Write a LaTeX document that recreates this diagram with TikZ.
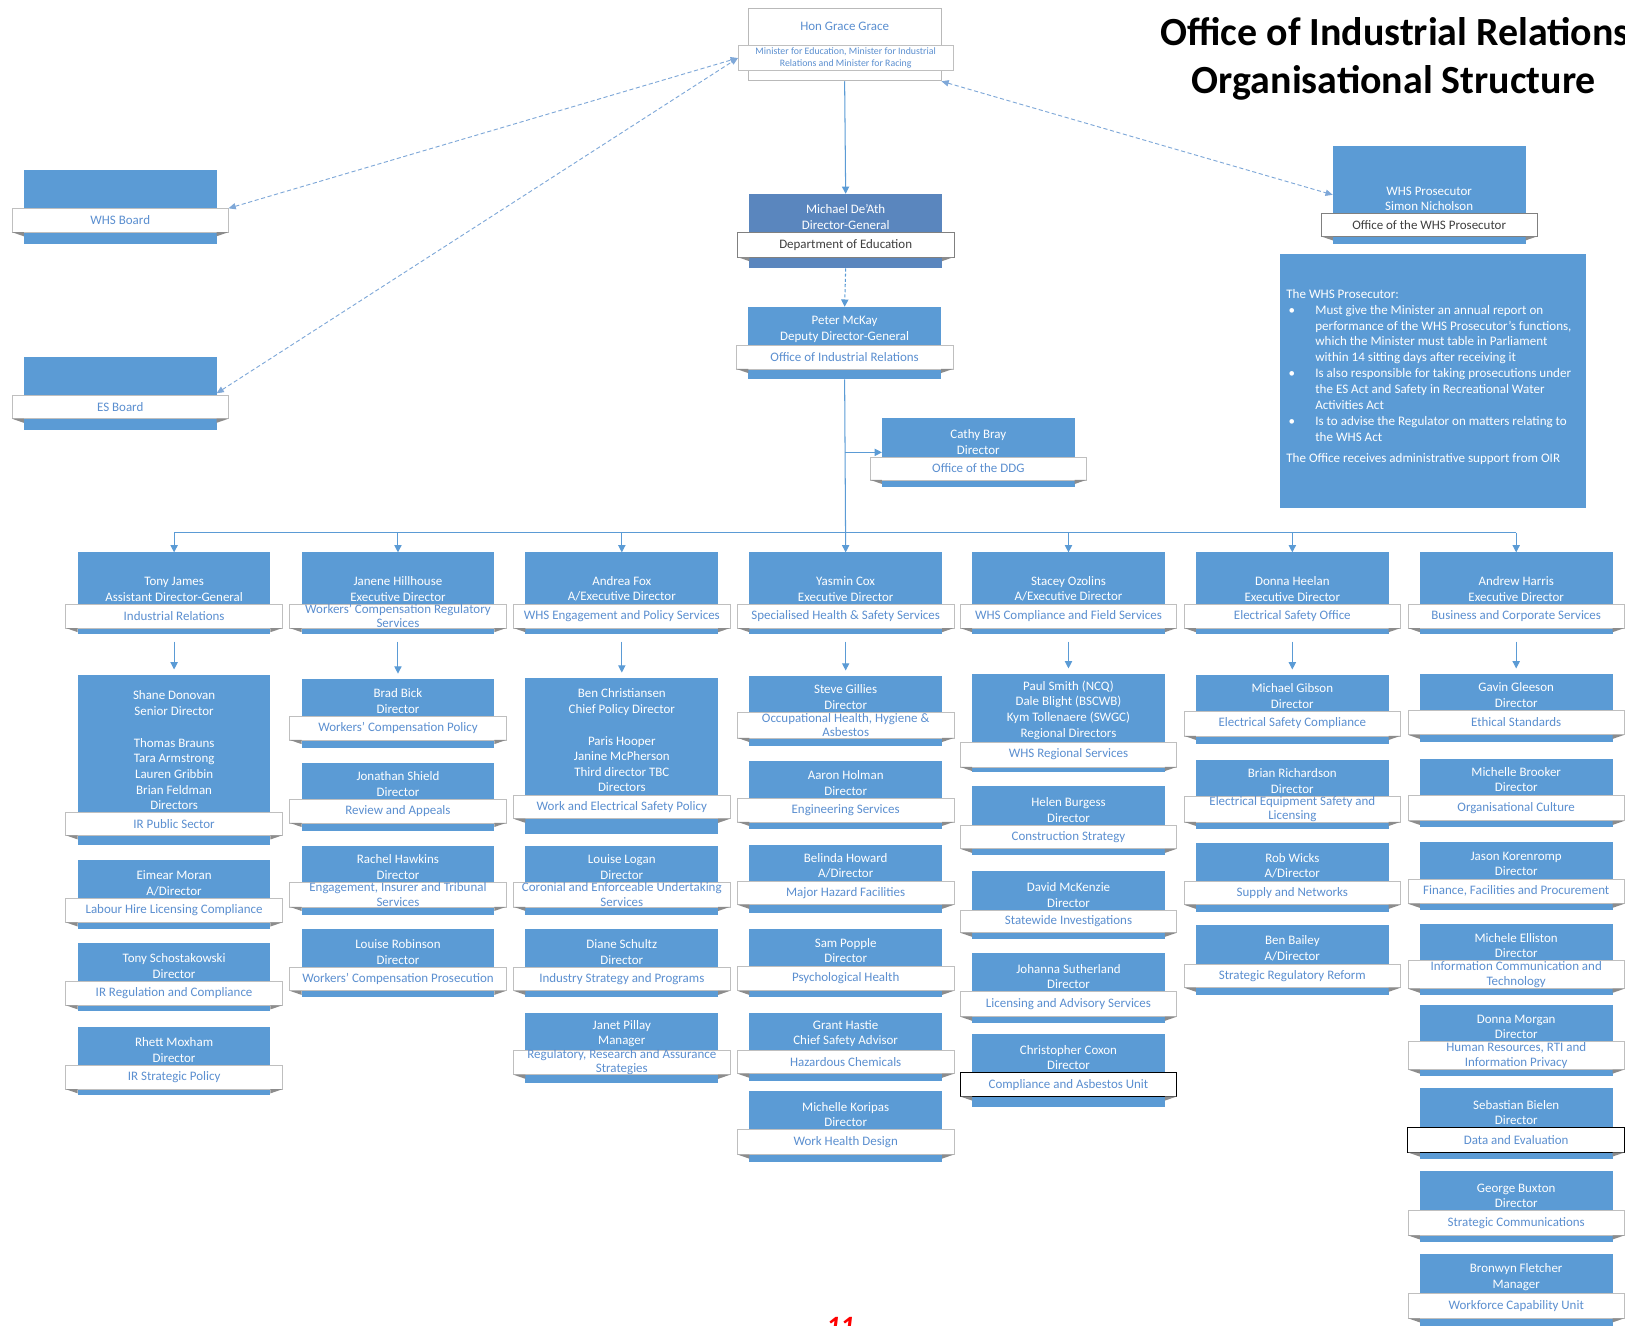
\documentclass[tikz,border=0pt]{standalone}
\usepackage{fontspec}
\setmainfont{Carlito}
\usetikzlibrary{arrows.meta,calc}
\definecolor{boxblue}{HTML}{5B9BD5}
\definecolor{deepblue}{HTML}{5A86BE}
\definecolor{bandtext}{HTML}{5B8FD0}
\definecolor{darktext}{HTML}{3F3F3F}
\definecolor{linecol}{HTML}{5B9BD5}
\definecolor{dashcol}{HTML}{7FA8D8}
\definecolor{bandedge}{HTML}{BFBFBF}
\definecolor{foldcol}{HTML}{8C8C8C}
\definecolor{pagered}{HTML}{FF0000}
\tikzset{
  bluebox/.style={fill=boxblue, draw=none, minimum width=186pt, inner sep=0pt, outer sep=0pt},
  bandbox/.style={fill=white, draw=bandedge, line width=0.6pt, minimum width=209pt, inner sep=0pt, outer sep=0pt},
  nametext/.style={text=white, align=center, font=\fontsize{12.5}{15}\selectfont, inner sep=0pt, anchor=south},
  bandlabel/.style={text=bandtext, align=center, font=\fontsize{12.5}{14}\selectfont, inner sep=0pt},
  fold/.style={fill=foldcol},
  conn/.style={draw=linecol, line width=1pt},
  arr/.style={conn, -{Triangle[length=7pt,width=7pt]}},
  dasharr/.style={draw=dashcol, line width=0.9pt, dash pattern=on 4pt off 2.5pt, >={Triangle[length=7pt,width=6pt]}, <->},
}
\newcommand\orgcard[9]{%
  \pgfmathsetmacro\cardcy{(#3+#4)/2}%
  \pgfmathsetmacro\cardch{#4-#3}%
  \pgfmathsetmacro\cardby{(#5+#6)/2}%
  \pgfmathsetmacro\cardbh{#6-#5}%
  \pgfmathsetmacro\cardty{#5-2.5}%
  \node[bluebox, minimum height=\cardch pt] (#1) at (#2,\cardcy) {};
  \node[nametext] (#1-t) at (#2,\cardty) {#7};
  \node[bandbox, minimum height=\cardbh pt, #9] (#1-b) at (#2,\cardby) {};
  \fill[fold] (#1-b.south west) -- ($(#1-b.south west -| #1.west)+(0,4)$) -- (#1-b.south west -| #1.west) -- cycle;
  \fill[fold] (#1-b.south east) -- ($(#1-b.south east -| #1.east)+(0,4)$) -- (#1-b.south east -| #1.east) -- cycle;
  \node[bandlabel] (#1-l) at (#1-b.center) {#8};
}
\begin{document}
\begin{tikzpicture}[x=1pt,y=-1pt]
\useasboundingbox (0,0) rectangle (1568,1279);
\clip (0,0) rectangle (1568,1279);

% title
\node[font=\bfseries\fontsize{38.5}{44}\selectfont, anchor=base, inner sep=0pt] (title1) at (1346,44) {Office of Industrial Relations};
\node[font=\bfseries\fontsize{38.5}{44}\selectfont, anchor=base, inner sep=0pt] (title2) at (1345,90) {Organisational Structure};

% minister
\node[fill=white, draw=gray!55, line width=0.8pt, minimum width=186pt, minimum height=70pt, inner sep=0pt] (minister) at (815,43) {};
\node[text=bandtext, font=\fontsize{12.5}{14}\selectfont, inner sep=0pt] (minister-t) at (815,25) {Hon Grace Grace};
\node[bandbox, minimum width=208pt, minimum height=24pt] (minister-b) at (816,56) {};
\node[bandlabel, font=\fontsize{9.5}{11.5}\selectfont] (minister-l) at (minister-b.center) {Minister for Education, Minister for Industrial\\Relations and Minister for Racing};

% boards
\orgcard{whsb}{116}{164}{235}{201}{224}{}{WHS Board}{}
\orgcard{esb}{116}{344}{415}{381}{404}{}{ES Board}{}

% executive line
\begin{scope}[bluebox/.append style={fill=deepblue}]
\orgcard{mda}{816}{187}{259}{224}{248}{Michael De’Ath\\Director-General}{\textcolor{darktext}{Department of Education}}{draw=gray}
\end{scope}
\orgcard{pmk}{815}{296}{366}{333}{356}{Peter McKay\\Deputy Director-General}{Office of Industrial Relations}{}
\orgcard{cb}{944}{403}{470}{441}{463}{Cathy Bray\\Director}{Office of the DDG}{}

% WHS prosecutor
\orgcard{wp}{1379}{141}{235}{206}{228}{WHS Prosecutor\\Simon Nicholson}{\textcolor{darktext}{Office of the WHS Prosecutor}}{draw=gray}
\node[fill=boxblue, minimum width=295pt, minimum height=245pt, inner sep=0pt] (wpinfo) at (1382.5,367.5) {};
\node[anchor=north west, inner sep=0pt, text=white, align=left, font=\fontsize{12.6}{15.3}\selectfont] (wpinfo-t) at (1241,279) {%
The WHS Prosecutor:\\
\makebox[28pt][l]{\,•}Must give the Minister an annual report on\\
\hspace*{28pt}performance of the WHS Prosecutor’s functions,\\
\hspace*{28pt}which the Minister must table in Parliament\\
\hspace*{28pt}within 14 sitting days after receiving it\\
\makebox[28pt][l]{\,•}Is also responsible for taking prosecutions under\\
\hspace*{28pt}the ES Act and Safety in Recreational Water\\
\hspace*{28pt}Activities Act\\
\makebox[28pt][l]{\,•}Is to advise the Regulator on matters relating to\\
\hspace*{28pt}the WHS Act\\[5pt]
The Office receives administrative support from OIR};

% column heads
\orgcard{h1}{168}{533}{612}{583}{606}{Tony James\\Assistant Director-General}{Industrial Relations}{}
\orgcard{h2}{384}{533}{612}{583}{606}{Janene Hillhouse\\Executive Director}{Workers’ Compensation Regulatory\\Services}{}
\orgcard{h3}{600}{533}{612}{583}{606}{Andrea Fox\\A/Executive Director}{WHS Engagement and Policy Services}{}
\orgcard{h4}{816}{533}{612}{583}{606}{Yasmin Cox\\Executive Director}{Specialised Health \& Safety Services}{}
\orgcard{h5}{1031}{533}{612}{583}{606}{Stacey Ozolins\\A/Executive Director}{WHS Compliance and Field Services}{}
\orgcard{h6}{1247}{533}{612}{583}{606}{Donna Heelan\\Executive Director}{Electrical Safety Office}{}
\orgcard{h7}{1463}{533}{612}{583}{606}{Andrew Harris\\Executive Director}{Business and Corporate Services}{}

% column 1
\orgcard{c1a}{168}{651}{815}{784}{806}{Shane Donovan\\Senior Director\\[16pt]Thomas Brauns\\Tara Armstrong\\Lauren Gribbin\\Brian Feldman\\Directors}{IR Public Sector}{}
\orgcard{c1b}{168}{830}{896}{867}{890}{Eimear Moran\\A/Director}{Labour Hire Licensing Compliance}{}
\orgcard{c1c}{168}{910}{976}{947}{970}{Tony Schostakowski\\Director}{IR Regulation and Compliance}{}
\orgcard{c1d}{168}{991}{1057}{1028}{1051}{Rhett Moxham\\Director}{IR Strategic Policy}{}

% column 2
\orgcard{c2a}{384}{655}{722}{691}{714}{Brad Bick\\Director}{Workers’ Compensation Policy}{}
\orgcard{c2b}{384}{736}{802}{771}{794}{Jonathan Shield\\Director}{Review and Appeals}{}
\orgcard{c2c}{384}{816}{883}{851}{875}{Rachel Hawkins\\Director}{Engagement, Insurer and Tribunal\\Services}{}
\orgcard{c2d}{384}{896}{962}{933}{956}{Louise Robinson\\Director}{Workers’ Compensation Prosecution}{}

% column 3
\orgcard{c3a}{600}{654}{805}{767}{790}{Ben Christiansen\\Chief Policy Director\\[16pt]Paris Hooper\\Janine McPherson\\Third director TBC\\Directors}{Work and Electrical Safety Policy}{}
\orgcard{c3b}{600}{816}{883}{851}{875}{Louise Logan\\Director}{Coronial and Enforceable Undertaking\\Services}{}
\orgcard{c3c}{600}{896}{962}{933}{956}{Diane Schultz\\Director}{Industry Strategy and Programs}{}
\orgcard{c3d}{600}{977}{1045}{1013}{1037}{Janet Pillay\\Manager}{Regulatory, Research and Assurance\\Strategies}{}

% column 4
\orgcard{c4a}{816}{652}{720}{687}{712}{Steve Gillies\\Director}{Occupational Health, Hygiene \&\\Asbestos}{}
\orgcard{c4b}{816}{734}{800}{770}{793}{Aaron Holman\\Director}{Engineering Services}{}
\orgcard{c4c}{816}{815}{881}{850}{873}{Belinda Howard\\A/Director}{Major Hazard Facilities}{}
\orgcard{c4d}{816}{896}{962}{932}{956}{Sam Popple\\Director}{Psychological Health}{}
\orgcard{c4e}{816}{977}{1043}{1013}{1036}{Grant Hastie\\Chief Safety Advisor}{Hazardous Chemicals}{}
\orgcard{c4f}{816}{1053}{1121}{1090}{1114}{Michelle Koripas\\Director}{Work Health Design}{}

% column 5
\orgcard{c5a}{1031}{650}{745}{716}{740}{Paul Smith (NCQ)\\Dale Blight (BSCWB)\\Kym Tollenaere (SWGC)\\Regional Directors}{WHS Regional Services}{}
\orgcard{c5b}{1031}{758}{825}{796}{819}{Helen Burgess\\Director}{Construction Strategy}{}
\orgcard{c5c}{1031}{840}{906}{878}{900}{David McKenzie\\Director}{Statewide Investigations}{}
\orgcard{c5d}{1031}{920}{987}{957}{981}{Johanna Sutherland\\Director}{Licensing and Advisory Services}{}
\orgcard{c5e}{1031}{998}{1068}{1035}{1058}{Christopher Coxon\\Director}{Compliance and Asbestos Unit}{draw=black, line width=0.9pt}

% column 6
\orgcard{c6a}{1247}{651}{718}{686}{710}{Michael Gibson\\Director}{Electrical Safety Compliance}{}
\orgcard{c6b}{1247}{733}{800}{768}{793}{Brian Richardson\\Director}{Electrical Equipment Safety and\\Licensing}{}
\orgcard{c6c}{1247}{813}{880}{850}{873}{Rob Wicks\\A/Director}{Supply and Networks}{}
\orgcard{c6d}{1247}{893}{960}{930}{953}{Ben Bailey\\A/Director}{Strategic Regulatory Reform}{}

% column 7
\orgcard{c7a}{1463}{650}{716}{685}{709}{Gavin Gleeson\\Director}{Ethical Standards}{}
\orgcard{c7b}{1463}{732}{798}{767}{792}{Michelle Brooker\\Director}{Organisational Culture}{}
\orgcard{c7c}{1463}{812}{878}{848}{872}{Jason Korenromp\\Director}{Finance, Facilities and Procurement}{}
\orgcard{c7d}{1463}{892}{960}{927}{954}{Michele Elliston\\Director}{Information Communication and\\Technology}{}
\orgcard{c7e}{1463}{970}{1038}{1005}{1032}{Donna Morgan\\Director}{Human Resources, RTI and\\Information Privacy}{}
\orgcard{c7f}{1463}{1050}{1118}{1088}{1112}{Sebastian Bielen\\Director}{Data and Evaluation}{draw=black, line width=0.9pt}
\orgcard{c7g}{1463}{1130}{1198}{1168}{1192}{George Buxton\\Director}{Strategic Communications}{}
\orgcard{c7h}{1463}{1210}{1279}{1248}{1272}{Bronwyn Fletcher\\Manager}{Workforce Capability Unit}{}

% page number
\node[anchor=north, inner sep=0pt, text=pagered, font=\bfseries\itshape\fontsize{27}{30}\selectfont] (pageno) at (811,1271) {11};

% connectors
\draw[arr] (minister.south) -- (mda.north);
\draw[arr, densely dashed] (mda.south) -- (pmk.north);
\draw[arr] (pmk.south) -- (h4.north);
\draw[arr] (pmk.south |- cb.west) -- (cb.west);
\coordinate (bus) at (816,514);
\draw[conn] (h1.north |- bus) -- (h7.north |- bus);
\foreach \i in {1,2,3,5,6,7} {\draw[arr] (h\i.north |- bus) -- (h\i.north);}
\foreach \i in {1,...,7} {\draw[arr] ([yshift=-7pt]h\i.south) -- ([yshift=5pt]c\i a.north);}
\draw[dasharr] (whsb-b.north east) -- (minister-b.west);
\draw[dasharr] (esb.east) -- (minister-b.west);
\draw[dasharr] (minister.south east) -- (wp.west);
\end{tikzpicture}
\end{document}
